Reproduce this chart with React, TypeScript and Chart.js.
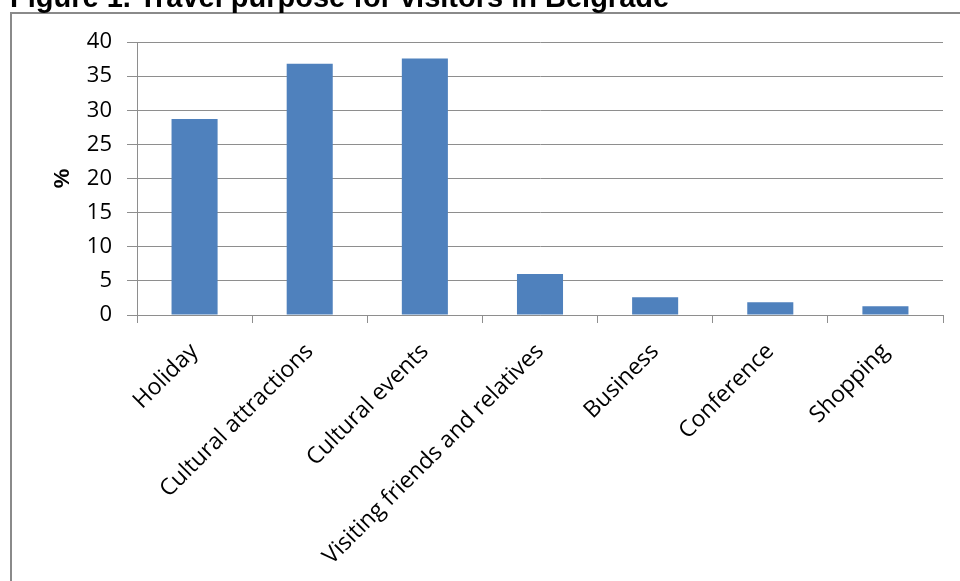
import React, { useEffect, useRef } from "react";
import { Chart, registerables } from "chart.js";

Chart.register(...registerables);

const categories: string[] = [
  "Holiday",
  "Cultural attractions",
  "Cultural events",
  "Visiting friends and relatives",
  "Business",
  "Conference",
  "Shopping",
];
const percentValues: number[] = [28.7, 36.8, 37.6, 6.0, 2.6, 1.85, 1.3];
const yMin = 0;
const yMax = 40;
const yStep = 5;
const titleText = "Figure 1. Travel purpose for visitors in Belgrade";
const yAxisTitle = "%";

const W = 960;
const H = 581;
const GRID = "#8e8e8e";

const framePlugin = {
  id: "frame",
  beforeDraw(chart: any) {
    const ctx = chart.ctx;
    ctx.save();
    ctx.fillStyle = "#ffffff";
    ctx.fillRect(0, 0, W, H);
    ctx.strokeStyle = "#8a8a8a";
    ctx.lineWidth = 2;
    ctx.beginPath();
    ctx.moveTo(11, H + 2);
    ctx.lineTo(11, 13);
    ctx.lineTo(W + 2, 13);
    ctx.stroke();
    ctx.restore();
  },
};

export default function App() {
  const ref = useRef<HTMLCanvasElement | null>(null);

  useEffect(() => {
    if (!ref.current) return;
    const chart = new Chart(ref.current, {
      type: "bar",
      data: {
        labels: categories,
        datasets: [
          {
            data: percentValues,
            backgroundColor: "#4F81BD",
            barPercentage: 0.4,
            categoryPercentage: 1.0,
          },
        ],
      },
      options: {
        animation: false,
        responsive: false,
        maintainAspectRatio: false,
        layout: { padding: { left: 0, top: 42, right: 17, bottom: 0 } },
        plugins: {
          legend: { display: false },
          tooltip: { enabled: false },
        },
        scales: {
          x: {
            type: "category",
            offset: true,
            afterFit: (s: any) => {
              s.height = H - 315;
            },
            grid: {
              offset: true,
              drawOnChartArea: false,
              drawTicks: true,
              tickLength: 8,
              color: GRID,
            },
            border: { display: true, color: GRID, width: 1 },
            ticks: {
              autoSkip: false,
              minRotation: 45,
              maxRotation: 45,
              padding: 15,
              color: "#000000",
              font: { family: "'Open Sans', sans-serif", size: 23 },
            },
          },
          y: {
            min: yMin,
            max: yMax,
            afterFit: (s: any) => {
              s.width = 137;
            },
            ticks: {
              stepSize: yStep,
              padding: 15,
              color: "#000000",
              font: { family: "'Open Sans', sans-serif", size: 22 },
            },
            grid: {
              color: GRID,
              tickLength: 10,
              drawTicks: true,
            },
            border: { display: true, color: GRID, width: 1 },
            title: {
              display: true,
              text: yAxisTitle,
              color: "#000000",
              font: { family: "'Liberation Sans', Arial, sans-serif", size: 22, weight: "bold" },
              padding: { top: 50, bottom: 0 },
            },
          },
        },
      },
      plugins: [framePlugin],
    });
    return () => chart.destroy();
  }, []);

  return (
    <div
      style={{
        position: "absolute",
        left: 0,
        top: 0,
        width: W,
        height: H,
        overflow: "hidden",
        background: "#fff",
      }}
    >
      <canvas ref={ref} width={W} height={H} style={{ position: "absolute", left: 0, top: 0, width: W, height: H }} />
      <div
        style={{
          position: "absolute",
          left: 10,
          top: -23,
          fontFamily: "'Liberation Sans', Arial, sans-serif",
          fontWeight: "bold",
          fontSize: 29,
          lineHeight: "40px",
          whiteSpace: "nowrap",
          color: "#000",
        }}
      >
        {titleText}
      </div>
    </div>
  );
}
